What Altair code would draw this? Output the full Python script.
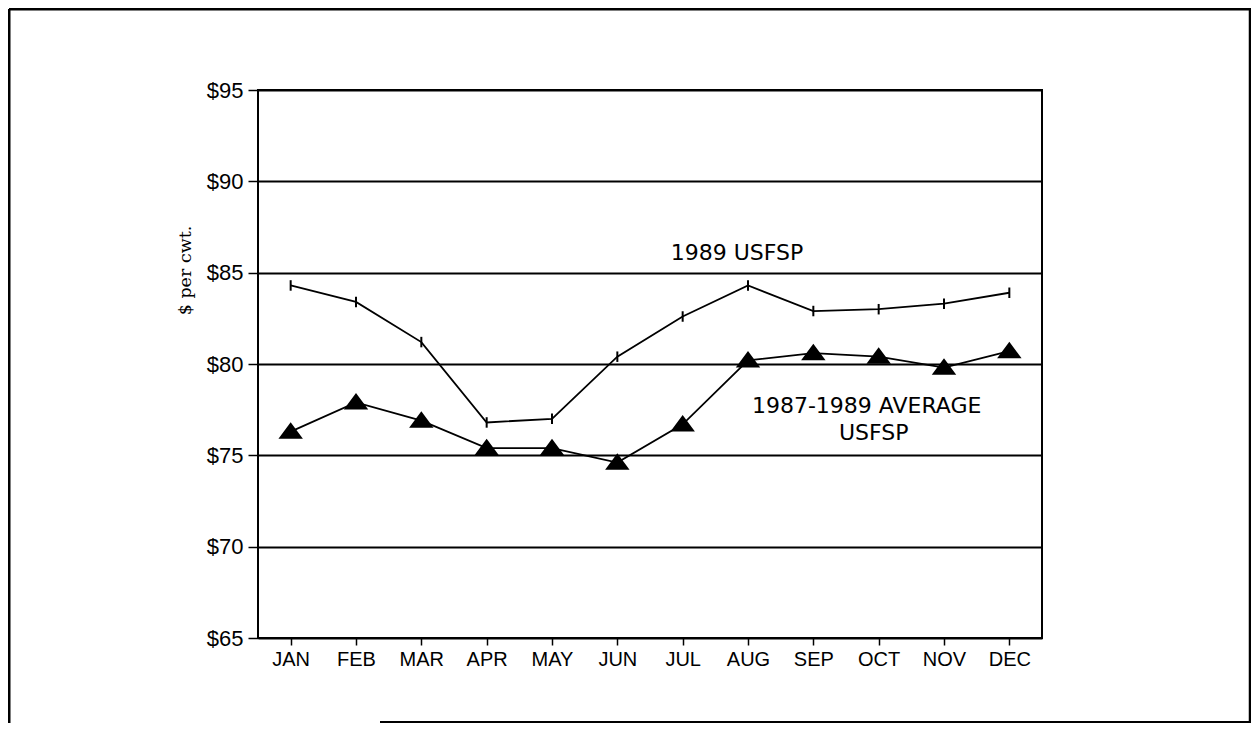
import altair as alt
import pandas as pd

months = ["JAN", "FEB", "MAR", "APR", "MAY", "JUN", "JUL", "AUG", "SEP", "OCT", "NOV", "DEC"]
usfsp_1989 = [84.3, 83.4, 81.2, 76.8, 77.0, 80.4, 82.6, 84.3, 82.9, 83.0, 83.3, 83.9]
usfsp_avg = [76.3, 77.9, 76.9, 75.4, 75.4, 74.6, 76.7, 80.2, 80.6, 80.4, 79.8, 80.7]

label_text = ["1989 USFSP", "1987-1989 AVERAGE", "USFSP"]
label_month = ["AUG", "OCT", "OCT"]
label_value = [86.1, 77.7, 76.2]
label_dx = [-11, -12, -5]

df1 = pd.DataFrame({"month": months, "value": usfsp_1989})
df2 = pd.DataFrame({"month": months, "value": usfsp_avg})

x_scale = alt.Scale(type="point", padding=0.5, domain=months)
y_scale = alt.Scale(domain=[65, 95], nice=False, zero=False)

x_enc = alt.X("month:N", sort=months, scale=x_scale,
              axis=alt.Axis(title=None, labelAngle=0, labelFont="Liberation Sans", labelFontSize=20,
                            labelColor="black", tickColor="black", tickSize=7, tickWidth=1.5,
                            labelPadding=4, domain=False, grid=False))
y_enc = alt.Y("value:Q", scale=y_scale,
              axis=alt.Axis(values=[65, 70, 75, 80, 85, 90, 95], format="$d",
                            title="$ per cwt.", titleFont="DejaVu Serif", titleFontSize=17.5,
                            titleFontWeight="normal", titleColor="black",
                            titleX=-73, titleY=180, titleAngle=-90, titleAlign="center",
                            titleBaseline="middle",
                            labelFont="Liberation Sans", labelFontSize=22, labelColor="black",
                            tickColor="black", tickSize=10, tickWidth=1.5, labelPadding=5,
                            domain=False, grid=True, gridColor="black", gridWidth=1.8,
                            gridOpacity=1))

line1 = alt.Chart(df1).mark_line(color="black", strokeWidth=1.8).encode(x=x_enc, y=y_enc)
ticks1 = alt.Chart(df1).mark_point(shape="M0,-1L0,1", size=110, filled=False,
                                   stroke="black", strokeWidth=2, opacity=1).encode(x=x_enc, y=y_enc)
line2 = alt.Chart(df2).mark_line(color="black", strokeWidth=1.8).encode(x=x_enc, y=y_enc)
tri2 = alt.Chart(df2).mark_point(shape="M-1,0.6L1,0.6L0,-0.75Z", size=420, filled=True,
                                 fill="black", stroke="black", opacity=1).encode(x=x_enc, y=y_enc)

label_layers = []
for t, m, v, d in zip(label_text, label_month, label_value, label_dx):
    sub = pd.DataFrame({"text": [t], "month": [m], "value": [v]})
    label_layers.append(
        alt.Chart(sub).mark_text(font="DejaVu Sans", fontSize=22, color="black",
                                 align="center", baseline="middle", dx=d).encode(
            x=alt.X("month:N", sort=months, scale=x_scale),
            y=alt.Y("value:Q", scale=y_scale),
            text="text:N"))

one = pd.DataFrame({"a": [0]})
frame_top = alt.Chart(one).mark_rule(color="black", strokeWidth=3).encode(
    x=alt.value(-249), x2=alt.value(993), y=alt.value(-81), y2=alt.value(-81))
frame_left = alt.Chart(one).mark_rule(color="black", strokeWidth=3).encode(
    x=alt.value(-249), x2=alt.value(-249), y=alt.value(-81), y2=alt.value(633))
frame_right = alt.Chart(one).mark_rule(color="black", strokeWidth=2.5).encode(
    x=alt.value(992), x2=alt.value(992), y=alt.value(-81), y2=alt.value(633))
frame_bottom = alt.Chart(one).mark_rule(color="black", strokeWidth=2).encode(
    x=alt.value(122), x2=alt.value(993), y=alt.value(632), y2=alt.value(632))

chart = alt.layer(line1, ticks1, line2, tri2, *label_layers,
                  frame_top, frame_left, frame_right, frame_bottom).properties(
    width=784, height=548,
    padding={"left": 250, "top": 82, "right": 209, "bottom": 86},
    autosize=alt.AutoSizeParams(type="none"),
    background="white",
).configure_view(stroke="black", strokeWidth=2)

chart.save("out.html", embed_options={"renderer": "svg", "actions": False})
